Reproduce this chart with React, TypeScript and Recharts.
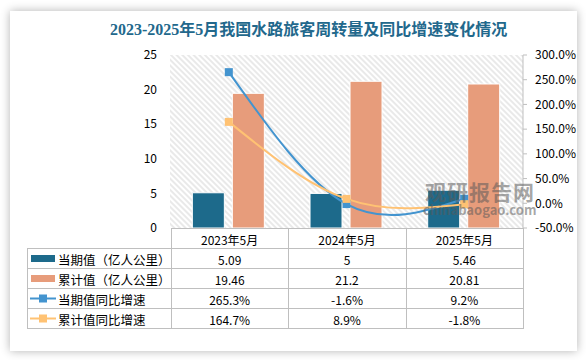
import React from 'react'
import { Bar, ComposedChart, Line, ReferenceArea, XAxis, YAxis } from 'recharts'

const categories = ['2023年5月', '2024年5月', '2025年5月']
const currentValues = [5.09, 5, 5.46]
const cumulativeValues = [19.46, 21.2, 20.81]
const currentGrowth = [265.3, -1.6, 9.2]
const cumulativeGrowth = [164.7, 8.9, -1.8]
const currentLabels = ['5.09', '5', '5.46']
const cumulativeLabels = ['19.46', '21.2', '20.81']
const leftTicks = [0, 5, 10, 15, 20, 25]
const rightTicks = [-50, 0, 50, 100, 150, 200, 250, 300]

const TITLE = '2023-2025年5月我国水路旅客周转量及同比增速变化情况'
const FONT = '"Noto Sans CJK SC", "Noto Sans", sans-serif'

const DARK = '#1d6a8b'
const SALMON = '#e79c7b'
const BLUE = '#4394cf'
const ORANGE = '#ffc273'
const GRID = '#bfbfbf'

const data = categories.map((name, i) => ({
  name,
  current: currentValues[i],
  cumulative: cumulativeValues[i],
  currentYoy: currentGrowth[i],
  cumulativeYoy: cumulativeGrowth[i],
}))

const squareDot = (color: string) => (props: any) => {
  const { cx, cy, index } = props
  if (cx == null || cy == null) return null
  return <rect key={index} x={cx - 4} y={cy - 4} width={8} height={8} fill={color} />
}

// table geometry, matches plot area 170..523
const colX = [27, 171, 288.3, 405.7, 523]
const rowY = [228, 248, 268, 288, 308, 328]

const tableRows = [
  { label: '当期值（亿人公里）', icon: 'bar', color: DARK, values: currentLabels },
  { label: '累计值（亿人公里）', icon: 'bar', color: SALMON, values: cumulativeLabels },
  { label: '当期值同比增速', icon: 'line', color: BLUE, values: currentGrowth.map((v) => v + '%') },
  { label: '累计值同比增速', icon: 'line', color: ORANGE, values: cumulativeGrowth.map((v) => v + '%') },
]

const DataTable = () => {
  const lines: React.ReactNode[] = []
  rowY.forEach((y, i) => {
    lines.push(<line key={'h' + i} x1={i === 0 ? colX[1] : colX[0]} x2={colX[4]} y1={y + 0.5} y2={y + 0.5} stroke={GRID} />)
  })
  colX.forEach((x, i) => {
    const y0 = i === 0 ? rowY[1] : rowY[0]
    lines.push(<line key={'v' + i} x1={x + 0.5} x2={x + 0.5} y1={y0} y2={rowY[5] + 1} stroke={GRID} />)
  })
  return (
    <svg width={586} height={360} style={{ position: 'absolute', left: 0, top: 0 }}>
      <g shapeRendering="crispEdges">{lines}</g>
      <g fontFamily={FONT} fontSize={12} fill="#000">
        {categories.map((c, i) => (
          <text key={c} x={(colX[i + 1] + colX[i + 2]) / 2} y={(rowY[0] + rowY[1]) / 2 + 1} textAnchor="middle" dominantBaseline="central">
            {c}
          </text>
        ))}
        {tableRows.map((r, ri) => {
          const cy = (rowY[ri + 1] + rowY[ri + 2]) / 2 + 1
          return (
            <g key={r.label}>
              {r.icon === 'bar' ? (
                <rect x={31} y={cy - 4} width={24} height={7} fill={r.color} />
              ) : (
                <g>
                  <line x1={30} x2={56} y1={cy - 0.5} y2={cy - 0.5} stroke={r.color} strokeWidth={2} />
                  <rect x={39} y={cy - 4.5} width={8} height={8} fill={r.color} />
                </g>
              )}
              <text x={58} y={cy} fontSize={12.5} dominantBaseline="central">
                {r.label}
              </text>
              {r.values.map((v, i) => (
                <text key={i} x={(colX[i + 1] + colX[i + 2]) / 2} y={cy} textAnchor="middle" dominantBaseline="central">
                  {v}
                </text>
              ))}
            </g>
          )
        })}
      </g>
    </svg>
  )
}

export default function App() {
  return (
    <div style={{ position: 'relative', width: 586, height: 360, background: '#fff', overflow: 'hidden' }}>
      <style>{'body{margin:0}'}</style>
      <div
        style={{
          position: 'absolute',
          left: 10,
          top: 11,
          width: 567,
          height: 340,
          background: '#fff',
          boxShadow: '0 0 9px rgba(0,0,0,0.3)',
        }}
      />
      <div
        style={{
          position: 'absolute',
          left: 110,
          top: 21,
          fontFamily: '"Liberation Serif", "Noto Sans CJK SC", serif',
          fontSize: 16,
          fontWeight: 'bold',
          lineHeight: '18px',
          color: '#22688c',
          whiteSpace: 'nowrap',
        }}
      >
        {TITLE}
      </div>
      <div style={{ position: 'absolute', left: 0, top: 0 }}>
        <ComposedChart
          width={586}
          height={240}
          data={data}
          margin={{ top: 55, right: 0, bottom: 12, left: 110 }}
          barCategoryGap="19%"
          barGap={8}
        >
          <defs>
            <pattern id="hatch" width={4} height={4} patternUnits="userSpaceOnUse" patternTransform="rotate(-45)">
              <line x1={2} y1={0} x2={2} y2={4} stroke="#c8c8c8" strokeWidth={1} />
            </pattern>
          </defs>
          <XAxis dataKey="name" hide />
          <YAxis
            yAxisId="left"
            domain={[0, 25]}
            ticks={leftTicks}
            interval={0}
            width={60}
            axisLine={false}
            tickLine={false}
            tickSize={6}
            tickMargin={7}
            tick={{ fontSize: 12, fill: '#000', fontFamily: FONT }}
          />
          <YAxis
            yAxisId="right"
            orientation="right"
            domain={[-50, 300]}
            ticks={rightTicks}
            interval={0}
            width={63}
            axisLine={{ stroke: GRID }}
            tickLine={{ stroke: GRID }}
            tickSize={4}
            tickMargin={8}
            tickFormatter={(v: number) => v.toFixed(1) + '%'}
            tick={{ fontSize: 12, fill: '#000', fontFamily: FONT }}
          />
          <ReferenceArea yAxisId="left" y1={0} y2={25} fill="url(#hatch)" fillOpacity={0.8} stroke="none" />
          <Bar yAxisId="left" dataKey="current" fill={DARK} stroke="#fff" strokeWidth={1} isAnimationActive={false} />
          <Bar yAxisId="left" dataKey="cumulative" fill={SALMON} stroke="#fff" strokeWidth={1} isAnimationActive={false} />
          <Line
            yAxisId="right"
            type="natural"
            dataKey="currentYoy"
            stroke={BLUE}
            strokeWidth={2}
            dot={squareDot(BLUE)}
            activeDot={false}
            isAnimationActive={false}
          />
          <Line
            yAxisId="right"
            type="natural"
            dataKey="cumulativeYoy"
            stroke={ORANGE}
            strokeWidth={2}
            dot={squareDot(ORANGE)}
            activeDot={false}
            isAnimationActive={false}
          />
        </ComposedChart>
      </div>
      <DataTable />
      <div
        style={{
          position: 'absolute',
          left: 425,
          top: 181,
          fontFamily: FONT,
          fontWeight: 'bold',
          color: 'rgba(90,90,90,0.55)',
          lineHeight: 1,
          pointerEvents: 'none',
        }}
      >
        <div style={{ fontSize: 21, letterSpacing: 1 }}>观研报告网</div>
        <div style={{ fontSize: 13, marginTop: 1, marginLeft: -2 }}>chinabaogao.com</div>
      </div>
    </div>
  )
}
